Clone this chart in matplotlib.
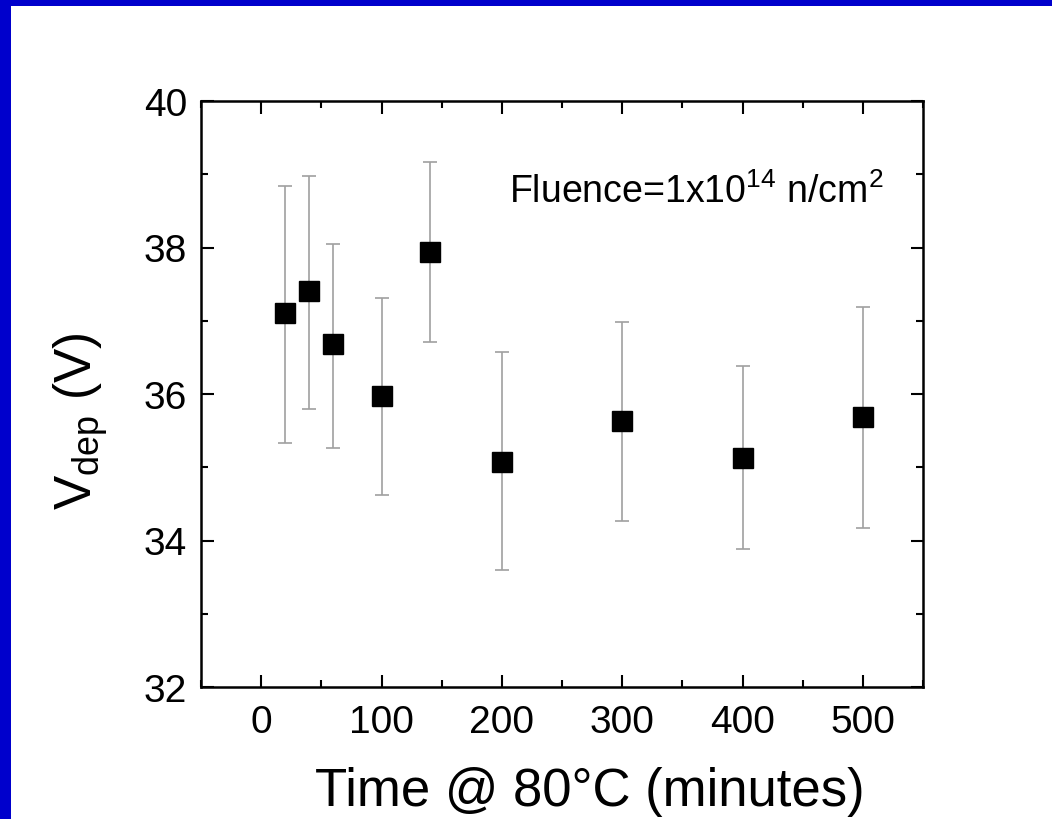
import matplotlib
matplotlib.use("Agg")
import matplotlib.pyplot as plt
from matplotlib.patches import Rectangle
from matplotlib.ticker import MultipleLocator
import numpy as np

plt.rcParams['font.family'] = ['Liberation Sans', 'DejaVu Sans']
plt.rcParams['mathtext.fontset'] = 'custom'
plt.rcParams['mathtext.rm'] = 'Liberation Sans'
plt.rcParams['mathtext.it'] = 'Liberation Sans'

time_min = [20, 40, 60, 100, 140, 200, 300, 400, 500]
vdep = [37.10, 37.41, 36.68, 35.97, 37.94, 35.07, 35.63, 35.13, 35.69]
err_low = [35.33, 35.79, 35.26, 34.62, 36.71, 33.60, 34.27, 33.88, 34.17]
err_high = [38.84, 38.98, 38.05, 37.31, 39.17, 36.57, 36.98, 36.38, 37.19]

x_ticks = [0, 100, 200, 300, 400, 500]
y_ticks = [32, 34, 36, 38, 40]

fig = plt.figure(figsize=(10.52, 8.2), dpi=100)
fig.patch.set_facecolor('white')
fig.patches.append(Rectangle((0, 0), 11/1052, 1, transform=fig.transFigure,
                             facecolor='#0000CC', edgecolor='none', zorder=0))
fig.patches.append(Rectangle((0, 1 - 7/820), 1, 7/820, transform=fig.transFigure,
                             facecolor='#0000CC', edgecolor='none', zorder=0))

ax = fig.add_axes([201/1052, 1 - 688/820, (923-201)/1052, (688-102)/820])

v = np.array(vdep)
yerr = [v - np.array(err_low), np.array(err_high) - v]
ax.errorbar(time_min, vdep, yerr=yerr, fmt='s', color='black', markersize=15,
            ecolor='#a0a0a0', elinewidth=1.2, capsize=5, capthick=1.2, zorder=3)

ax.set_xlim(-50, 550)
ax.set_ylim(32, 40)
ax.set_xticks(x_ticks)
ax.set_yticks(y_ticks)
ax.xaxis.set_minor_locator(MultipleLocator(50))
ax.yaxis.set_minor_locator(MultipleLocator(1))
ax.tick_params(which='both', direction='in', top=True, right=True, width=1.5)
ax.tick_params(which='major', length=9, labelsize=28)
ax.tick_params(axis='x', which='major', pad=12)
ax.tick_params(axis='y', which='major', pad=10)
ax.tick_params(which='minor', length=5)
for s in ax.spines.values():
    s.set_linewidth(1.8)

ax.set_xlabel('Time @ 80°C (minutes)', fontsize=38, labelpad=19)
ax.xaxis.label.set_x(0.538)
ax.set_ylabel(r'V$_{\mathregular{dep}}$ (V)', fontsize=37, labelpad=24)
ax.yaxis.label.set_y(0.455)
ax.text(0.945, 0.828, r'Fluence=1x10$^{\mathregular{14}}$ n/cm$^{\mathregular{2}}$',
        transform=ax.transAxes, ha='right', va='baseline', fontsize=27)

fig.savefig('out.png', dpi=100)
